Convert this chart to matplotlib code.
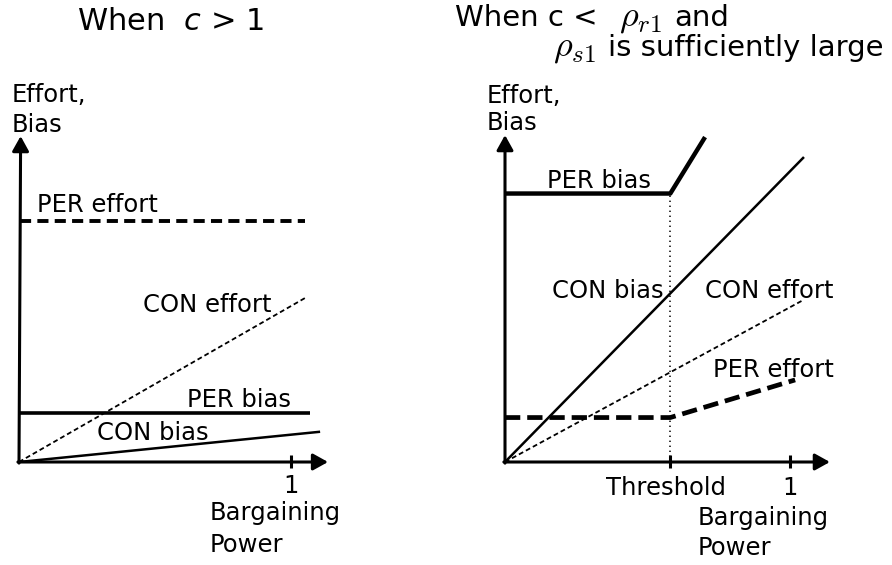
import matplotlib
matplotlib.use("Agg")
import matplotlib.pyplot as plt

plt.rcParams['lines.scale_dashes'] = False

# ---- left panel data (x = bargaining power, y = level) ----
l_per_effort_x = [0.004, 1.05]
l_per_effort_y = [0.884, 0.884]
l_per_bias_x = [0.0, 1.068]
l_per_bias_y = [0.181, 0.181]
l_con_bias_x = [0.0, 1.105]
l_con_bias_y = [0.0, 0.111]
l_con_effort_x = [0.0, 1.05]
l_con_effort_y = [0.0, 0.602]
l_axis_top = 1.196
l_axis_right = 1.134

# ---- right panel data ----
threshold = 0.58
r_per_bias_x = [0.0, threshold, 0.702]
r_per_bias_y = [0.942, 0.942, 1.14]
r_con_bias_x = [0.0, 1.049]
r_con_bias_y = [0.0, 1.07]
r_con_effort_x = [0.0, 1.046]
r_con_effort_y = [0.0, 0.568]
r_per_effort_x = [0.0, threshold, 1.018]
r_per_effort_y = [0.156, 0.156, 0.288]
r_axis_top = 1.147
r_axis_right = 1.14

W, H = 892, 565
fig = plt.figure(figsize=(W / 100, H / 100), dpi=100)

FS = 17.5
TFS = 22
RFS = 21
MFS = 26


def make_axes(x0px, y0px, ppu):
    ax = fig.add_axes([0, 0, 1, 1])
    ax.set_xlim(-x0px / ppu, (W - x0px) / ppu)
    ax.set_ylim(-(H - y0px) / ppu, y0px / ppu)
    ax.axis('off')
    return ax


def draw_axes(ax, top, right, ticks, top_x=0.0):
    arrow = dict(arrowstyle='-|>,head_length=0.45,head_width=0.25', lw=2.2,
                 color='black', shrinkA=0, shrinkB=0, mutation_scale=20)
    ax.annotate('', xy=(top_x, top), xytext=(0, -0.004), arrowprops=arrow)
    ax.annotate('', xy=(right, 0), xytext=(-0.004, 0), arrowprops=arrow)
    for t in ticks:
        ax.plot([t, t], [-0.022, 0.025], color='black', lw=2.2, solid_capstyle='butt')


# ---------------- left ----------------
axl = make_axes(19, 462, 272.5)
draw_axes(axl, l_axis_top, l_axis_right, [1.0], top_x=0.006)
axl.plot(l_per_effort_x, l_per_effort_y, color='black', lw=2.8, dashes=(8, 4.5))
axl.plot(l_per_bias_x, l_per_bias_y, color='black', lw=2.6, solid_capstyle='butt')
axl.plot(l_con_bias_x, l_con_bias_y, color='black', lw=1.8, solid_capstyle='butt')
axl.plot(l_con_effort_x, l_con_effort_y, color='black', lw=1.3, dashes=(3.5, 2.2))

axl.text(-0.026, 1.321, 'Effort,', fontsize=FS)
axl.text(-0.026, 1.211, 'Bias', fontsize=FS)
axl.text(0.066, 0.917, 'PER effort', fontsize=FS)
axl.text(0.455, 0.552, 'CON effort', fontsize=FS)
axl.text(1.0, 0.203, 'PER bias', fontsize=FS, ha='right')
axl.text(0.286, 0.081, 'CON bias', fontsize=FS)
axl.text(1.0, -0.114, '1', fontsize=FS, ha='center')
axl.text(0.701, -0.213, 'Bargaining', fontsize=FS)
axl.text(0.701, -0.329, 'Power', fontsize=FS)

fig.text(171 / W, 1 - 29.5 / H, 'When  $c$ > 1', fontsize=TFS, ha='center', va='baseline')

# ---------------- right ----------------
axr = make_axes(505, 462, 285)
draw_axes(axr, r_axis_top, r_axis_right, [threshold, 1.0])
axr.plot([threshold, threshold], [0, r_per_bias_y[1]], color='black', lw=1.1,
         linestyle=(0, (1, 2.6)))
axr.plot(r_per_bias_x, r_per_bias_y, color='black', lw=3.2, solid_capstyle='butt')
axr.plot(r_con_bias_x, r_con_bias_y, color='black', lw=1.8, solid_capstyle='butt')
axr.plot(r_con_effort_x, r_con_effort_y, color='black', lw=1.3, dashes=(3.5, 2.2))
axr.plot(r_per_effort_x, r_per_effort_y, color='black', lw=3.4, dashes=(11, 5))

axr.text(-0.063, 1.26, 'Effort,', fontsize=FS)
axr.text(-0.063, 1.165, 'Bias', fontsize=FS)
axr.text(0.147, 0.961, 'PER bias', fontsize=FS)
axr.text(0.165, 0.575, 'CON bias', fontsize=FS)
axr.text(0.702, 0.575, 'CON effort', fontsize=FS)
axr.text(0.73, 0.299, 'PER effort', fontsize=FS)
axr.text(threshold - 0.015, -0.116, 'Threshold', fontsize=FS, ha='center')
axr.text(1.0, -0.116, '1', fontsize=FS, ha='center')
axr.text(0.677, -0.221, 'Bargaining', fontsize=FS)
axr.text(0.677, -0.326, 'Power', fontsize=FS)

fig.text(455 / W, 1 - 26 / H, 'When c <', fontsize=RFS, va='baseline')
fig.text(619 / W, 1 - 26 / H, r'$\rho_{r1}$', fontsize=MFS, va='baseline',
         math_fontfamily='cm')
fig.text(674 / W, 1 - 26 / H, 'and', fontsize=RFS, va='baseline')
fig.text(553 / W, 1 - 56 / H, r'$\rho_{s1}$', fontsize=MFS, va='baseline',
         math_fontfamily='cm')
fig.text(608 / W, 1 - 56 / H, 'is sufficiently large', fontsize=RFS, va='baseline')

fig.savefig('out.png', dpi=100)
